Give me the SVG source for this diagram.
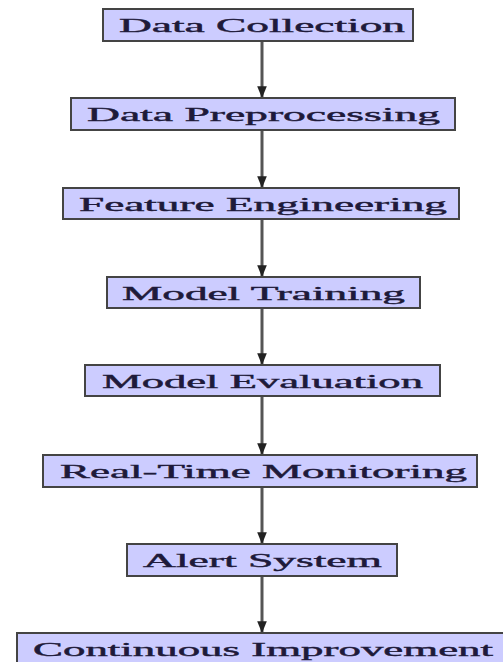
<svg xmlns="http://www.w3.org/2000/svg" width="503" height="662" viewBox="0 0 503 662">
<style>
.box{fill:#ccccff;stroke:#444;stroke-width:2}
.lbl{font-family:"Liberation Serif","DejaVu Serif",serif;font-size:18px;font-weight:normal;fill:#1e1a3a;stroke:#1e1a3a;stroke-width:0.4}
.edge{stroke:#555;stroke-width:3;fill:none}
</style>
<defs>
<marker id="arr" viewBox="0 0 10 10" refX="9" refY="5" markerWidth="4" markerHeight="4" orient="auto" markerUnits="strokeWidth">
<path d="M0,1 L10,5 L0,9 Z" fill="#222"/>
</marker>
</defs>
<rect width="503" height="662" fill="#fff"/>
<g id="connectors">
<line class="edge" x1="262" y1="41" x2="262" y2="97" marker-end="url(#arr)"/>
<line class="edge" x1="262" y1="130" x2="262" y2="187" marker-end="url(#arr)"/>
<line class="edge" x1="262" y1="219" x2="262" y2="276" marker-end="url(#arr)"/>
<line class="edge" x1="262" y1="308" x2="262" y2="364" marker-end="url(#arr)"/>
<line class="edge" x1="262" y1="396" x2="262" y2="454" marker-end="url(#arr)"/>
<line class="edge" x1="262" y1="487" x2="262" y2="543" marker-end="url(#arr)"/>
<line class="edge" x1="262" y1="576" x2="262" y2="632" marker-end="url(#arr)"/>
</g>
<g id="n1"><rect class="box" x="103" y="9" width="310" height="32"/><text class="lbl" x="119" y="32" textLength="286" lengthAdjust="spacingAndGlyphs">Data Collection</text></g>
<g id="n2"><rect class="box" x="71" y="98" width="384" height="32"/><text class="lbl" x="87" y="121" textLength="353" lengthAdjust="spacingAndGlyphs">Data Preprocessing</text></g>
<g id="n3"><rect class="box" x="63" y="188" width="396" height="31"/><text class="lbl" x="79" y="211" textLength="368" lengthAdjust="spacingAndGlyphs">Feature Engineering</text></g>
<g id="n4"><rect class="box" x="107" y="277" width="313" height="31"/><text class="lbl" x="122" y="300" textLength="283" lengthAdjust="spacingAndGlyphs">Model Training</text></g>
<g id="n5"><rect class="box" x="85" y="365" width="355" height="31"/><text class="lbl" x="102" y="388" textLength="321" lengthAdjust="spacingAndGlyphs">Model Evaluation</text></g>
<g id="n6"><rect class="box" x="43" y="455" width="434" height="32"/><text class="lbl" x="60" y="478" textLength="407" lengthAdjust="spacingAndGlyphs">Real-Time Monitoring</text></g>
<g id="n7"><rect class="box" x="127" y="544" width="270" height="32"/><text class="lbl" x="143" y="567" textLength="239" lengthAdjust="spacingAndGlyphs">Alert System</text></g>
<g id="n8"><rect class="box" x="17" y="633" width="500" height="40"/><text class="lbl" x="33" y="656" textLength="460" lengthAdjust="spacingAndGlyphs">Continuous Improvement</text></g>
</svg>
